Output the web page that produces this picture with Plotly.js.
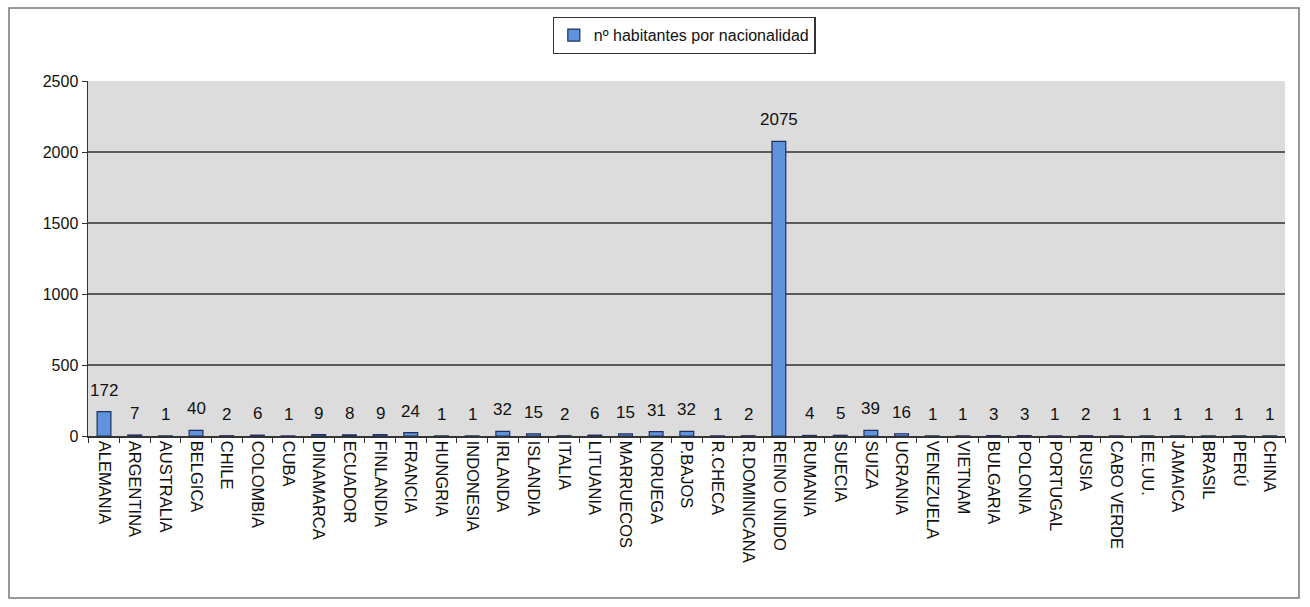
<!DOCTYPE html>
<html>
<head>
<meta charset="utf-8">
<script src="https://cdn.plot.ly/plotly-3.0.1.min.js"></script>
<style>html,body{margin:0;padding:0;background:#fff;}#chart{width:1310px;height:607px;}</style>
</head>
<body>
<div id="chart"></div>
<script>
const categories = ["ALEMANIA","ARGENTINA","AUSTRALIA","BELGICA","CHILE","COLOMBIA","CUBA","DINAMARCA","ECUADOR","FINLANDIA","FRANCIA","HUNGRIA","INDONESIA","IRLANDA","ISLANDIA","ITALIA","LITUANIA","MARRUECOS","NORUEGA","P.BAJOS","R.CHECA","R.DOMINICANA","REINO UNIDO","RUMANIA","SUECIA","SUIZA","UCRANIA","VENEZUELA","VIETNAM","BULGARIA","POLONIA","PORTUGAL","RUSIA","CABO VERDE","EE.UU.","JAMAICA","BRASIL","PERÚ","CHINA"];
const habitantes = [172,7,1,40,2,6,1,9,8,9,24,1,1,32,15,2,6,15,31,32,1,2,2075,4,5,39,16,1,1,3,3,1,2,1,1,1,1,1,1];
const seriesName = "nº habitantes por nacionalidad";
const yTicks = [0,500,1000,1500,2000,2500];

const FONT = 'Liberation Sans, Arial, sans-serif';

const trace = {
  type: 'bar',
  x: categories,
  y: habitantes,
  name: seriesName,
  width: 0.45,
  marker: {color: '#5f93dc', line: {color: '#1f2f5f', width: 1.2}},
  showlegend: true
};

const labels = categories.map((c, i) => ({
  x: c, y: habitantes[i], xref: 'x', yref: 'y',
  text: String(habitantes[i]), showarrow: false,
  yanchor: 'bottom', yshift: 10,
  font: {family: FONT, size: 17, color: '#111'}
}));

const layout = {
  width: 1310, height: 607,
  margin: {l: 88, r: 25, t: 81, b: 171},
  paper_bgcolor: '#ffffff',
  plot_bgcolor: '#dcdcdc',
  font: {family: FONT, color: '#111'},
  showlegend: true,
  legend: {
    orientation: 'h', x: 0.498, xanchor: 'center',
    yref: 'container', y: 0.972, yanchor: 'top',
    bgcolor: '#ffffff', bordercolor: '#333', borderwidth: 1.2,
    itemwidth: 30,
    font: {size: 16, color: '#111'}
  },
  xaxis: {
    type: 'category',
    tickangle: 90,
    tickson: 'boundaries',
    ticks: 'outside', ticklen: 5, tickcolor: '#333',
    showline: true, linecolor: '#333', linewidth: 1.5,
    showgrid: false,
    tickfont: {size: 16.5, color: '#111'},
    automargin: false
  },
  yaxis: {
    range: [0, 2500],
    tickvals: yTicks,
    ticks: 'outside', ticklen: 5, tickcolor: '#333',
    showline: true, linecolor: '#333', linewidth: 1.5,
    showgrid: true, gridcolor: '#5a5a5a', gridwidth: 1.3,
    zeroline: false,
    tickfont: {size: 16, color: '#111'},
    automargin: false
  },
  annotations: labels,
  shapes: [{
    type: 'rect', xref: 'paper', yref: 'paper',
    x0: (9 - 88) / 1197, x1: (1299 - 88) / 1197,
    y0: (436 - 598) / 355, y1: (436 - 8) / 355,
    line: {color: '#777', width: 1.5}, fillcolor: 'rgba(0,0,0,0)', layer: 'below'
  }]
};

Plotly.newPlot('chart', [trace], layout, {displayModeBar: false, staticPlot: true});
</script>
</body>
</html>
